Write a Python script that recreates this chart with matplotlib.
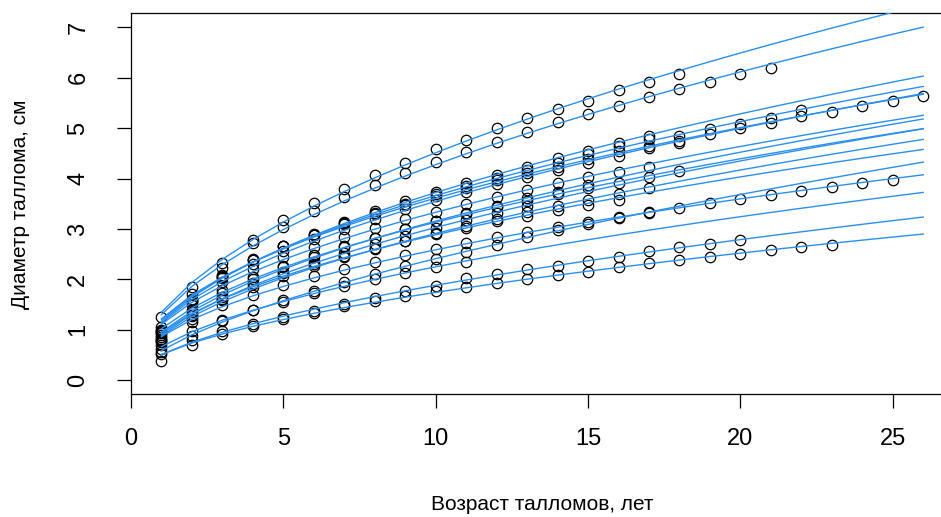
# Thallus growth curves: observed diameters plus power fits per thallus
import numpy as np
import matplotlib
matplotlib.use('Agg')
import matplotlib.pyplot as plt

plt.rcParams['font.family'] = ['Liberation Sans', 'DejaVu Sans']

# Diameters (cm) by age, one list per thallus, ages start at 1
d_a = [1.26, 1.84, 2.33, 2.78, 3.17, 3.51, 3.80, 4.08, 4.31, 4.58, 4.76, 5.01, 5.20, 5.39, 5.55, 5.75, 5.91, 6.07]
d_b = [1.05, 1.72, 2.22, 2.73, 3.05, 3.35, 3.64, 3.88, 4.11, 4.33, 4.53, 4.73, 4.92, 5.12, 5.28, 5.44, 5.61, 5.77, 5.91, 6.07, 6.19]
d_c = [1.00, 1.62, 2.06, 2.39, 2.66, 2.91, 3.13, 3.35, 3.55, 3.73, 3.92, 4.08, 4.24, 4.41, 4.54, 4.71, 4.84]
d_d = [0.98, 1.60, 2.09, 2.39, 2.66, 2.89, 3.11, 3.31, 3.50, 3.69, 3.85, 4.02, 4.18, 4.31, 4.48, 4.64, 4.78, 4.84, 4.98, 5.08, 5.20, 5.36]
d_e = [0.95, 1.58, 2.05, 2.40, 2.66, 2.89, 3.10, 3.30, 3.48, 3.65, 3.81, 3.97, 4.11, 4.24, 4.38, 4.54, 4.64, 4.74, 4.88, 5.01, 5.10, 5.24, 5.32, 5.45, 5.55, 5.64]
d_f = [0.93, 1.55, 2.02, 2.31, 2.57, 2.80, 3.01, 3.20, 3.39, 3.57, 3.73, 3.89, 4.04, 4.18, 4.31, 4.44, 4.61, 4.71]
d_g = [0.90, 1.50, 1.94, 2.21, 2.44, 2.65, 2.85, 3.02, 3.19, 3.34, 3.49, 3.63, 3.78, 3.92, 4.03, 4.13, 4.24]
d_h = [0.85, 1.40, 1.79, 2.05, 2.27, 2.48, 2.66, 2.83, 3.00, 3.15, 3.30, 3.43, 3.56, 3.69, 3.81, 3.91, 4.04, 4.15]
d_i = [0.82, 1.35, 1.73, 2.00, 2.24, 2.45, 2.65, 2.83, 3.00, 3.16, 3.32, 3.46, 3.61, 3.74, 3.87]
d_j = [0.80, 1.30, 1.66, 1.91, 2.14, 2.34, 2.53, 2.71, 2.87, 3.03, 3.17, 3.32, 3.45]
d_k = [0.75, 1.22, 1.60, 1.85, 2.07, 2.26, 2.44, 2.61, 2.77, 2.92, 3.06, 3.20, 3.33, 3.46, 3.58, 3.70, 3.81]
d_l = [0.78, 1.28, 1.62, 1.92, 2.12, 2.30, 2.47, 2.62, 2.76, 2.90, 3.03, 3.15, 3.26, 3.37, 3.48, 3.58]
d_m = [0.55, 0.88, 1.17, 1.39, 1.59, 1.77, 1.94, 2.11, 2.26, 2.41, 2.55, 2.68, 2.85, 2.98, 3.10, 3.21, 3.31]
d_n = [0.70, 1.15, 1.49, 1.70, 1.89, 2.06, 2.21, 2.35, 2.48, 2.60, 2.72, 2.84, 2.94, 3.05, 3.14, 3.24, 3.33, 3.42, 3.51, 3.59, 3.67, 3.75, 3.83, 3.91, 3.98]
d_o = [0.62, 0.98, 1.20, 1.40, 1.56, 1.74, 1.86, 2.00, 2.13, 2.25, 2.35]
d_p = [0.52, 0.80, 0.97, 1.12, 1.26, 1.37, 1.52, 1.64, 1.77, 1.86, 2.02, 2.10, 2.20, 2.27, 2.36, 2.45, 2.56, 2.65, 2.71, 2.78]
d_q = [0.39, 0.69, 0.92, 1.08, 1.22, 1.33, 1.48, 1.58, 1.68, 1.77, 1.85, 1.92, 2.00, 2.08, 2.15, 2.25, 2.32, 2.38, 2.45, 2.51, 2.58, 2.65, 2.68]

thalli = [d_a, d_b, d_c, d_d, d_e, d_f, d_g, d_h, d_i, d_j, d_k, d_l, d_m, d_n, d_o, d_p, d_q]

x_ticks = [0, 5, 10, 15, 20, 25]
y_ticks = [0, 1, 2, 3, 4, 5, 6, 7]
max_age = 26


def fit_power(x, y):
    # start from log-log fit, then refine d = a * age^b by least squares
    b, la = np.polyfit(np.log(x), np.log(y), 1, w=y)
    a = np.exp(la)
    for _ in range(30):
        f = a * x**b
        J = np.column_stack([x**b, a * x**b * np.log(x)])
        step = np.linalg.lstsq(J, y - f, rcond=None)[0]
        a, b = a + step[0], b + step[1]
    return a, b


fig = plt.figure(figsize=(9.41, 5.17), dpi=100)
ax = fig.add_axes([0.1392, 0.2373, 0.8743, 0.7369])

grid = np.arange(1, max_age + 1)
for d in thalli:
    age = np.arange(1, len(d) + 1)
    y = np.array(d)
    a, b = fit_power(age.astype(float), y)
    ax.plot(age, y, 'o', mfc='none', mec='black', ms=7.5, mew=0.9, zorder=2)
    ax.plot(grid, a * grid**b, color='#2a8ff0', lw=1.0, zorder=3)

ax.set_xlim(0, 27)
ax.set_ylim(-0.28, 7.28)
ax.set_xticks(x_ticks)
ax.set_yticks(y_ticks)
ax.tick_params(direction='out', length=10, width=0.9, labelsize=17)
ax.tick_params(axis='x', pad=14)
ax.tick_params(axis='y', pad=20)
for t in ax.get_yticklabels():
    t.set_rotation(90)
    t.set_va('center')
for s in ax.spines.values():
    s.set_linewidth(0.9)

ax.set_xlabel('Возраст талломов, лет', fontsize=15, labelpad=33)
ax.set_ylabel('Диаметр таллома, см', fontsize=15, labelpad=27)

fig.savefig('out.png', dpi=100)
